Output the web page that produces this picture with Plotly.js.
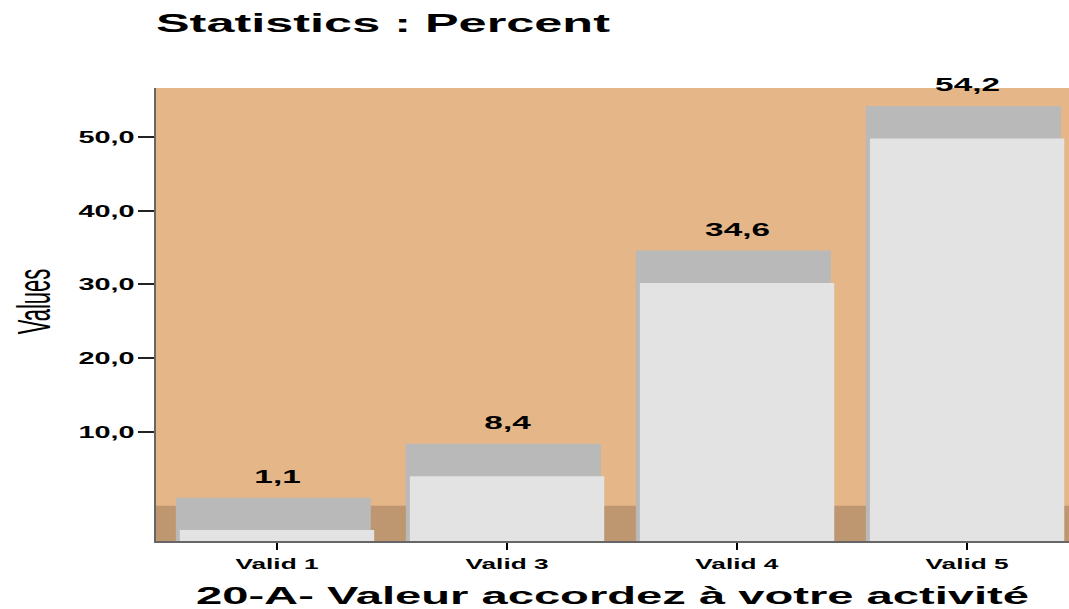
<!DOCTYPE html>
<html>
<head>
<meta charset="utf-8">
<script src="https://cdn.plot.ly/plotly-3.0.1.min.js"></script>
<style>
  body { margin: 0; background: #fff; }
  #chart { width: 1069px; height: 609px; }
</style>
</head>
<body>
<div id="chart"></div>
<script>
const categories = ['Valid 1', 'Valid 3', 'Valid 4', 'Valid 5'];
const percents = [1.1, 8.4, 34.6, 54.2];
const yTicks = [10, 20, 30, 40, 50];

// fake 3d: floor goes below zero, front face sits lower than the top
const floorY = -4.78;
const depth = 4.4;
const font = 'Liberation Sans, Arial, sans-serif';

const back = {
    x: categories,
    y: percents.map(v => v - floorY),
    base: floorY,
    type: 'bar',
    width: 0.848,
    offset: -0.44,
    marker: {color: '#b9b9b9', line: {width: 0}},
    hoverinfo: 'skip',
};
const front = {
    x: categories,
    y: percents.map(v => v - depth - floorY),
    base: floorY,
    type: 'bar',
    width: 0.845,
    offset: -0.4225,
    marker: {color: '#e3e3e3', line: {width: 0}},
    hoverinfo: 'skip',
};

const labels = categories.map((c, i) => ({
    x: c,
    y: percents[i],
    text: percents[i].toFixed(1).replace('.', ','),
    showarrow: false,
    yanchor: 'bottom',
    yshift: 9,
    font: {family: font, size: 18, color: '#000', weight: 'bold'},
}));

const layout = {
    width: 1069,
    height: 609,
    margin: {l: 156, r: 0, t: 88, b: 68},
    paper_bgcolor: '#fff',
    plot_bgcolor: '#e4b688',
    separators: ',.',
    showlegend: false,
    barmode: 'overlay',
    title: {
        text: 'Statistics : Percent',
        x: 0, xref: 'paper', xanchor: 'left',
        y: 0.962, yref: 'container', yanchor: 'middle',
        font: {family: font, size: 26, color: '#000', weight: 'bold'},
    },
    xaxis: {
        type: 'category',
        range: [-0.526, 3.443],
        showline: true, linecolor: '#666', linewidth: 2,
        ticks: 'outside', ticklen: 7, tickwidth: 2, tickcolor: '#000',
        ticklabelstandoff: 1,
        tickfont: {family: font, size: 15, color: '#000', weight: 'bold'},
        showgrid: false,
        title: {
            text: '20-A- Valeur accordez à votre activité',
            standoff: 18,
            font: {family: font, size: 23, color: '#000', weight: 'bold'},
        },
    },
    yaxis: {
        range: [floorY, 56.64],
        tickmode: 'array',
        tickvals: yTicks,
        tickformat: '.1f',
        showline: true, linecolor: '#666', linewidth: 2,
        ticks: 'outside', ticklen: 16, tickwidth: 2, tickcolor: '#222',
        tickfont: {family: font, size: 17, color: '#000', weight: 'bold'},
        showgrid: false,
        zeroline: false,
        title: {
            text: 'Values',
            standoff: 53,
            font: {family: font, size: 22, color: '#000'},
        },
    },
    shapes: [{
        type: 'rect', layer: 'below',
        xref: 'paper', x0: 0, x1: 1,
        yref: 'y', y0: floorY, y1: 0,
        fillcolor: '#be966f', line: {width: 0},
    }],
    annotations: labels,
};

// the source picture is stretched sideways, so widen the text the same way
function stretch(sel, sx, where, dy) {
    document.querySelectorAll(sel).forEach(el => {
        const r = el.getBoundingClientRect();
        const X = where === 'left' ? r.left : where === 'right' ? r.right : r.left + r.width / 2;
        const m = el.parentNode.getScreenCTM();
        const px = (X - m.e) / m.a;
        const old = el.getAttribute('transform') || '';
        el.setAttribute('transform',
            `translate(${px},${dy || 0}) scale(${sx},1) translate(${-px},0) ${old}`);
    });
}

Plotly.newPlot('chart', [back, front], layout, {staticPlot: true}).then(() => {
    stretch('.gtitle', 1.94, 'left');
    stretch('.xtitle', 2.05, 'center');
    stretch('.ytitle', 2.1, 'center', -13);
    stretch('.xtick text', 1.75, 'center');
    stretch('.ytick text', 1.7, 'right');
    stretch('.annotation-text', 1.85, 'center');
});
</script>
</body>
</html>
